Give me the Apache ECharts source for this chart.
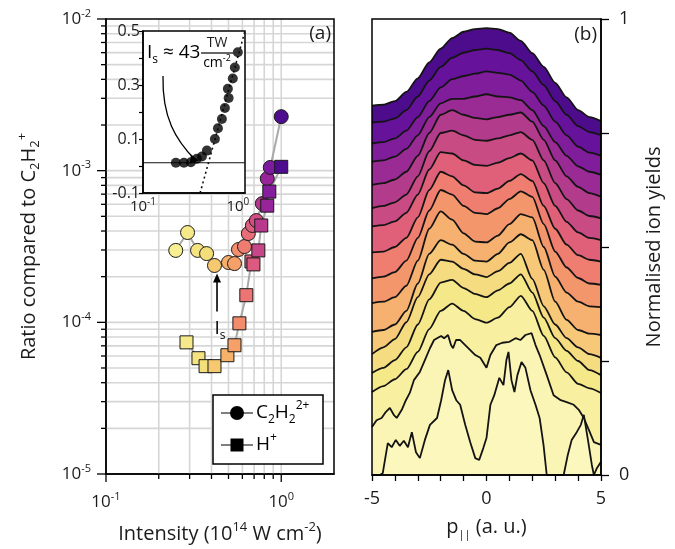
<!DOCTYPE html>
<html>
<head>
<meta charset="utf-8">
<script src="https://cdn.jsdelivr.net/npm/echarts@6/dist/echarts.min.js"></script>
<style>
  html, body { margin: 0; padding: 0; background: #fff; }
  #chart { width: 675px; height: 549px; }
</style>
</head>
<body>
<div id="chart"></div>
<script>
// ---------- Panel (a): yield ratios vs laser intensity ----------
const dicationIntensity = [0.25, 0.292, 0.333, 0.375, 0.416, 0.50, 0.541, 0.57, 0.617, 0.649, 0.684, 0.721, 0.78, 0.832, 0.866, 1.0];
const dicationRatio = [2.98e-4, 3.91e-4, 2.98e-4, 2.84e-4, 2.37e-4, 2.48e-4, 2.44e-4, 3.02e-4, 3.16e-4, 3.85e-4, 4.35e-4, 4.69e-4, 6.07e-4, 8.86e-4, 1.05e-3, 2.27e-3];
const protonIntensity = [0.288, 0.337, 0.37, 0.416, 0.493, 0.541, 0.577, 0.632, 0.676, 0.694, 0.74, 0.769, 0.832, 0.855, 1.0];
const protonRatio = [7.38e-5, 5.80e-5, 5.14e-5, 5.14e-5, 6.07e-5, 7.06e-5, 9.85e-5, 1.51e-4, 2.52e-4, 2.41e-4, 2.98e-4, 4.35e-4, 5.88e-4, 7.28e-4, 1.06e-3];

// Saturation intensity (10^14 W cm^-2) and the ratio span of its arrow
const saturationIntensity = 0.43;
const saturationArrowRatio = [1.18e-4, 2.1e-4];

// Inset: linear-scale quantity vs intensity with a straight-line fit
const insetIntensity = [0.222, 0.27, 0.32, 0.37, 0.418, 0.472, 0.573, 0.617, 0.679, 0.73, 0.80, 0.785, 0.885, 0.93, 1.0];
const insetValue = [0.012, 0.012, 0.014, 0.027, 0.035, 0.057, 0.10, 0.14, 0.174, 0.215, 0.252, 0.286, 0.324, 0.365, 0.421];
const insetBaseline = 0.012;
const insetFitIntensity = [0.40, 1.19];
const insetFitValue = [-0.1, 0.5];

// ---------- Panel (b): stacked momentum distributions ----------
const pGrid = [-5, -4.5, -4, -3.5, -3, -2.5, -2, -1.5, -1, -0.5, 0, 0.5, 1, 1.5, 2, 2.5, 3, 3.5, 4, 4.5, 5];
const layer01 = [.810, .812, .820, .840, .870, .905, .935, .958, .972, .978, .980, .978, .970, .952, .925, .895, .860, .828, .800, .785, .776];
const layer02 = [.773, .775, .782, .800, .830, .865, .895, .915, .926, .932, .935, .932, .925, .910, .885, .855, .820, .790, .765, .752, .745];
const layer03 = [.727, .730, .738, .755, .785, .820, .850, .868, .875, .880, .885, .882, .878, .865, .840, .810, .775, .745, .720, .707, .700];
const layer04 = [.687, .690, .698, .715, .745, .785, .815, .825, .825, .830, .835, .830, .828, .822, .800, .765, .730, .700, .677, .665, .658];
const layer05 = [.636, .640, .648, .665, .700, .750, .790, .800, .790, .783, .780, .785, .790, .795, .775, .735, .690, .655, .632, .618, .610];
const layer06 = [.585, .590, .598, .615, .655, .710, .750, .755, .745, .735, .733, .738, .745, .752, .735, .690, .640, .605, .580, .568, .563];
const layer07 = [.545, .548, .556, .575, .615, .670, .708, .705, .690, .680, .678, .685, .695, .705, .690, .640, .590, .555, .532, .520, .515];
const layer08 = [.488, .490, .500, .520, .565, .625, .665, .655, .635, .620, .618, .628, .645, .660, .645, .590, .540, .505, .482, .472, .468];
const layer09 = [.431, .435, .445, .470, .520, .580, .625, .615, .590, .575, .572, .585, .605, .622, .610, .550, .490, .455, .432, .420, .417];
const layer10 = [.377, .380, .390, .415, .470, .540, .578, .560, .530, .512, .510, .525, .550, .572, .565, .500, .435, .400, .380, .370, .368];
const layer11 = [.314, .318, .330, .360, .420, .485, .515, .505, .485, .470, .468, .485, .510, .528, .515, .450, .380, .340, .318, .310, .307];
const layer12 = [.265, .280, .298, .335, .390, .440, .472, .468, .452, .440, .434, .447, .465, .485, .430, .370, .330, .300, .280, .265, .257];
const layer13 = [.224, .235, .252, .280, .330, .385, .422, .428, .410, .397, .390, .405, .420, .440, .400, .345, .300, .272, .250, .230, .219];
const layer14 = [.182, .195, .210, .232, .270, .320, .360, .376, .360, .342, .334, .345, .368, .393, .360, .305, .258, .225, .200, .190, .180];
const layer15P = [-5, -4.8, -4.58, -4.4, -4.22, -4.05, -3.92, -3.7, -3.52, -3.35, -3.17, -2.91, -2.69, -2.47, -2.29, -2.16, -1.98, -1.85, -1.68, -1.55, -1.46, -1.33, -1.15, -0.93, -0.71, -0.49, -0.27, 0, 0.17, 0.43, 0.69, 1.0, 1.27, 1.48, 1.7, 1.97, 2.14, 2.32, 2.63, 2.93, 3.24, 3.5, 3.81, 4.03, 4.25, 4.47, 4.69, 5];
const layer15 = [.105, .12, .125, .138, .147, .132, .125, .143, .164, .18, .208, .226, .252, .278, .296, .30, .305, .30, .307, .285, .278, .296, .296, .285, .274, .263, .257, .235, .263, .285, .29, .292, .30, .296, .307, .311, .285, .263, .219, .175, .164, .16, .154, .143, .125, .099, .072, .066];
const layer16P = [-5, -4.66, -4.53, -4.31, -4.14, -3.96, -3.79, -3.61, -3.43, -3.26, -3.08, -2.91, -2.69, -2.47, -2.16, -1.98, -1.81, -1.67, -1.5, -1.32, -1.15, -0.93, -0.71, -0.49, -0.32, -0.14, 0, 0.17, 0.34, 0.56, 0.74, 0.87, 0.96, 1.09, 1.22, 1.35, 1.53, 1.7, 1.92, 2.14, 2.32, 2.49, 2.63, 3.37, 3.55, 3.72, 3.94, 4.12, 4.25, 4.43, 4.6, 4.69, 4.82, 5];
const layer16 = [0, 0, .004, .07, .061, .077, .064, .075, .061, .094, .05, .037, .077, .11, .125, .164, .208, .23, .186, .164, .154, .11, .072, .037, .033, .059, .081, .154, .175, .213, .197, .252, .27, .208, .182, .219, .248, .235, .186, .154, .125, .066, 0, 0, .044, .077, .094, .11, .132, .077, .022, 0, .015, .029];

// Fill colours, highest intensity (top layer) to lowest (bottom layer)
const layerColors = ['#4d0c8c', '#66129a', '#801d9b', '#9a2b94', '#b23b8b', '#c84b83', '#e0607a', '#ef7d70',
                     '#f4966b', '#f6b06f', '#f6c878', '#f5dc80', '#f5e888', '#f8f0a0', '#faf5b5', '#fbf7bd'];

// Marker colour ramp for panel (a), keyed by intensity
const markerStops = [[0.25, '#f8ee92'], [0.375, '#f3de7a'], [0.416, '#f6c86f'], [0.5, '#f7b069'], [0.54, '#f7a26a'],
                     [0.57, '#f38f6c'], [0.62, '#ee7b70'], [0.65, '#e86c77'], [0.70, '#da5880'], [0.78, '#b4348f'],
                     [0.83, '#982598'], [0.87, '#7a1aa0'], [1.0, '#4e0c8e']];

const FONT = '"Open Sans", Lato, "DejaVu Sans", sans-serif';
const INK = '#1b1b1b';

function zip(xs, ys) { return xs.map((x, i) => [x, ys[i]]); }
function isPow10(v) { const l = Math.log10(v); return Math.abs(l - Math.round(l)) < 1e-6; }
function hexToRgb(h) { return [1, 3, 5].map(i => parseInt(h.slice(i, i + 2), 16)); }
function colorForIntensity(v) {
  if (v <= markerStops[0][0]) return markerStops[0][1];
  for (let i = 1; i < markerStops.length; i++) {
    if (v <= markerStops[i][0]) {
      const [a, ca] = markerStops[i - 1], [b, cb] = markerStops[i];
      const t = (v - a) / (b - a);
      const A = hexToRgb(ca), B = hexToRgb(cb);
      return 'rgb(' + A.map((c, k) => Math.round(c + (B[k] - c) * t)).join(',') + ')';
    }
  }
  return markerStops[markerStops.length - 1][1];
}
const powRich = {
  b: { fontFamily: FONT, fontSize: 17, color: INK, lineHeight: 22 },
  e: { fontFamily: FONT, fontSize: 11, color: INK, lineHeight: 10, verticalAlign: 'top' }
};
function powLabel(v) {
  if (!isPow10(v)) return '';
  return '{b|10}{e|' + Math.round(Math.log10(v)) + '}';
}

// grid positions for the log panel
const gridXValues = [];
for (let k = 1; k <= 9; k++) gridXValues.push(+(k / 10).toFixed(2));
gridXValues.push(1, 2);
const gridYValues = [];
for (let d = -5; d < -2; d++) for (let k = 1; k <= 9; k++) gridYValues.push(k * Math.pow(10, d));
gridYValues.push(1e-2);

const X0 = 0.1, X1 = 2, Y0 = 1e-5, Y1 = 1e-2;

const layerSeries = [layer01, layer02, layer03, layer04, layer05, layer06, layer07, layer08,
                     layer09, layer10, layer11, layer12, layer13, layer14];
const series = [];

// light grid + outward ticks, drawn through the axes' own scales
series.push({
  type: 'custom', xAxisIndex: 0, yAxisIndex: 0, z: 1, silent: true,
  data: gridXValues.map(v => [v, Y0]),
  renderItem(params, api) {
    const v = api.value(0);
    const t = api.coord([v, Y1]), b = api.coord([v, Y0]);
    const kids = [];
    if (v > X0 && v < X1) kids.push({ type: 'line', shape: { x1: t[0], y1: t[1], x2: b[0], y2: b[1] }, style: { stroke: '#d6d6d6', lineWidth: 1.6 } });
    if (v < X1) kids.push({ type: 'line', shape: { x1: b[0], y1: b[1], x2: b[0], y2: b[1] + (isPow10(v) ? 8 : 5) }, style: { stroke: '#000', lineWidth: 1.3 } });
    return { type: 'group', children: kids };
  }
});
series.push({
  type: 'custom', xAxisIndex: 0, yAxisIndex: 0, z: 1, silent: true,
  data: gridYValues.map(v => [X0, v]),
  renderItem(params, api) {
    const v = api.value(1);
    const l = api.coord([X0, v]), r = api.coord([X1, v]);
    const kids = [];
    if (v > Y0 * 1.0001 && v < Y1 * 0.9999) kids.push({ type: 'line', shape: { x1: l[0], y1: l[1], x2: r[0], y2: r[1] }, style: { stroke: '#d6d6d6', lineWidth: 1.6 } });
    kids.push({ type: 'line', shape: { x1: l[0] - (isPow10(v) ? 9 : 5), y1: l[1], x2: l[0], y2: l[1] }, style: { stroke: '#000', lineWidth: 1.3 } });
    return { type: 'group', children: kids };
  }
});

// measured ratios
series.push({
  name: 'C2H2 2+', type: 'line', xAxisIndex: 0, yAxisIndex: 0, z: 3,
  data: dicationIntensity.map((x, i) => ({ value: [x, dicationRatio[i]], itemStyle: { color: colorForIntensity(x) } })),
  symbol: 'circle', symbolSize: 14,
  lineStyle: { color: '#a9a9a9', width: 2 },
  itemStyle: { borderColor: '#1a1a1a', borderWidth: 1 }
});
series.push({
  name: 'H+', type: 'line', xAxisIndex: 0, yAxisIndex: 0, z: 3,
  data: protonIntensity.map((x, i) => ({ value: [x, protonRatio[i]], itemStyle: { color: colorForIntensity(x) } })),
  symbol: 'rect', symbolSize: 13,
  lineStyle: { color: '#a9a9a9', width: 2 },
  itemStyle: { borderColor: '#1a1a1a', borderWidth: 1 }
});

// inset
series.push({
  type: 'line', xAxisIndex: 1, yAxisIndex: 1, z: 7, silent: true, symbol: 'none',
  data: [[0.1, insetBaseline], [1.19, insetBaseline]],
  lineStyle: { color: '#111', width: 1.2 }
});
series.push({
  type: 'line', xAxisIndex: 1, yAxisIndex: 1, z: 7, silent: true, symbol: 'none',
  data: zip(insetFitIntensity, insetFitValue),
  lineStyle: { color: '#111', width: 1.6, type: [2, 3] }
});
series.push({
  type: 'scatter', xAxisIndex: 1, yAxisIndex: 1, z: 8,
  data: zip(insetIntensity, insetValue),
  symbolSize: 10, itemStyle: { color: '#000' }
});

// stacked distributions: each curve filled down to zero, lower ones painted on top
const curves = layerSeries.map(arr => zip(pGrid, arr));
curves.push(zip(layer15P, layer15));
curves.push(zip(layer16P, layer16));
curves.forEach((data, i) => {
  series.push({
    type: 'line', xAxisIndex: 2, yAxisIndex: 2, z: 10 + i, silent: true,
    data, symbol: 'none',
    smooth: i < 14 ? 0.25 : false, smoothMonotone: 'x',
    lineStyle: { color: '#141414', width: 1.8 },
    areaStyle: { color: layerColors[i], opacity: 1, origin: 'start' }
  });
});

const nameRich = {
  n: { fontFamily: FONT, fontSize: 20, color: INK, lineHeight: 26 },
  s: { fontFamily: FONT, fontSize: 13, color: INK, lineHeight: 12, verticalAlign: 'bottom' },
  p: { fontFamily: FONT, fontSize: 13, color: INK, lineHeight: 12, verticalAlign: 'top' }
};

const chart = echarts.init(document.getElementById('chart'), null, { renderer: 'canvas' });
chart.setOption({
  animation: false,
  backgroundColor: '#fff',
  grid: [
    { left: 106, top: 19, width: 228, height: 456, show: true, borderColor: '#000', borderWidth: 1.5, z: 2 },
    { left: 143, top: 31, width: 102, height: 162, show: true, borderColor: '#000', borderWidth: 1.5, backgroundColor: '#fff', z: 5 },
    { left: 372, top: 19, width: 229, height: 456, show: true, borderColor: '#000', borderWidth: 1.5, z: 50 }
  ],
  xAxis: [
    {
      type: 'log', gridIndex: 0, min: X0, max: X1, logBase: 10,
      axisLine: { onZero: false, lineStyle: { color: '#000', width: 1.5 } },
      axisTick: { show: false }, splitLine: { show: false },
      axisLabel: { formatter: powLabel, rich: powRich, margin: 17, showMaxLabel: false },
      name: '{n|Intensity (10}{p|14}{n| W cm}{p|-2}{n|)}', nameLocation: 'middle', nameGap: 47,
      nameTextStyle: { rich: nameRich }
    },
    {
      type: 'log', gridIndex: 1, min: 0.1, max: 1.19, logBase: 10, z: 6,
      axisLine: { onZero: false, lineStyle: { color: '#000', width: 1.5 } },
      axisTick: { show: false }, splitLine: { show: false },
      axisLabel: { formatter: powLabel, rich: {
        b: { fontFamily: FONT, fontSize: 15, color: INK, lineHeight: 19 },
        e: { fontFamily: FONT, fontSize: 10, color: INK, lineHeight: 9, verticalAlign: 'top' } },
        margin: 4, showMaxLabel: false }
    },
    {
      type: 'value', gridIndex: 2, min: -5, max: 5, interval: 1, z: 60,
      axisLine: { onZero: false, lineStyle: { color: '#000', width: 1.5 } },
      axisTick: { length: 6, lineStyle: { color: '#000', width: 1.3 } },
      splitLine: { show: false },
      axisLabel: { formatter: v => (v === -5 || v === 0 || v === 5) ? String(v) : '', fontFamily: FONT, fontSize: 18, color: INK, margin: 15 },
      name: '{n|p}{s|||}{n| (a. u.)}', nameLocation: 'middle', nameGap: 39,
      nameTextStyle: { rich: {
        n: { fontFamily: FONT, fontSize: 20, color: INK, lineHeight: 26 },
        s: { fontFamily: FONT, fontSize: 11, color: INK, lineHeight: 11, verticalAlign: 'bottom' } } }
    }
  ],
  yAxis: [
    {
      type: 'log', gridIndex: 0, min: Y0, max: Y1, logBase: 10,
      axisLine: { onZero: false, lineStyle: { color: '#000', width: 1.5 } },
      axisTick: { show: false }, splitLine: { show: false },
      axisLabel: { formatter: powLabel, rich: powRich, margin: 15 },
      name: '{n|Ratio compared to C}{s|2}{n|H}{s|2}{p|+}', nameLocation: 'middle', nameGap: 64,
      nameTextStyle: { rich: nameRich }
    },
    {
      type: 'value', gridIndex: 1, min: -0.1, max: 0.5, interval: 0.1, z: 6,
      axisLine: { onZero: false, lineStyle: { color: '#000', width: 1.5 } },
      axisTick: { length: 4, lineStyle: { color: '#000', width: 1.2 } },
      splitLine: { show: false },
      axisLabel: {
        formatter: v => { const r = Math.round(v * 10); return (r === -1 || r === 1 || r === 3 || r === 5) ? (r / 10).toFixed(1) : ''; },
        fontFamily: FONT, fontSize: 16, color: INK, margin: 3
      }
    },
    {
      type: 'value', gridIndex: 2, position: 'right', min: 0, max: 1, interval: 0.25, z: 60,
      axisLine: { onZero: false, lineStyle: { color: '#000', width: 1.5 } },
      axisTick: { length: 8, lineStyle: { color: '#000', width: 1.3 } },
      splitLine: { show: false },
      axisLabel: { formatter: v => (v === 0 || v === 1) ? String(v) : '', fontFamily: FONT, fontSize: 18, color: INK, margin: 18 },
      name: 'Normalised ion yields', nameLocation: 'middle', nameGap: 43, nameRotate: 90,
      nameTextStyle: { fontFamily: FONT, fontSize: 20, color: INK }
    }
  ],
  series
});

// annotations anchored to the data scales
const tip = chart.convertToPixel({ xAxisIndex: 0, yAxisIndex: 0 }, [saturationIntensity, saturationArrowRatio[1]]);
const tail = chart.convertToPixel({ xAxisIndex: 0, yAxisIndex: 0 }, [saturationIntensity, saturationArrowRatio[0]]);
const insetTarget = chart.convertToPixel({ xAxisIndex: 1, yAxisIndex: 1 }, [insetIntensity[4], insetValue[4]]);

const subRich = {
  n: { fontFamily: FONT, fontSize: 19, color: INK, lineHeight: 26 },
  s: { fontFamily: FONT, fontSize: 12, color: INK, lineHeight: 12, verticalAlign: 'bottom' },
  p: { fontFamily: FONT, fontSize: 12, color: INK, lineHeight: 12, verticalAlign: 'top' }
};

chart.setOption({
  graphic: [
    // panel tags
    { type: 'text', z: 100, style: { text: '(a)', x: 331, y: 34, align: 'right', verticalAlign: 'middle', font: '19px ' + FONT, fill: INK } },
    { type: 'text', z: 100, style: { text: '(b)', x: 597, y: 35, align: 'right', verticalAlign: 'middle', font: '19px ' + FONT, fill: INK } },
    // saturation-intensity arrow in (a)
    { type: 'line', z: 20, shape: { x1: tail[0], y1: tail[1], x2: tip[0], y2: tip[1] + 6 }, style: { stroke: '#000', lineWidth: 1.6 } },
    { type: 'polygon', z: 20, shape: { points: [[tip[0], tip[1]], [tip[0] - 4, tip[1] + 9], [tip[0] + 4, tip[1] + 9]] }, style: { fill: '#000' } },
    { type: 'text', z: 20, style: { text: '{n|I}{s|s}', rich: subRich, x: tail[0] + 3, y: tail[1] + 4, align: 'center', verticalAlign: 'top' } },
    // inset annotation
    { type: 'text', z: 20, style: { text: '{n|I}{s|s}{n| ≈ 43}', rich: {
        n: { fontFamily: FONT, fontSize: 19, color: INK, lineHeight: 26 },
        s: { fontFamily: FONT, fontSize: 12, color: INK, lineHeight: 12, verticalAlign: 'bottom' } },
      x: 147, y: 53, verticalAlign: 'middle' } },
    { type: 'text', z: 20, style: { text: 'TW', x: 217, y: 43, align: 'center', verticalAlign: 'middle', font: '14px ' + FONT, fill: INK } },
    { type: 'line', z: 20, shape: { x1: 201, y1: 53, x2: 233, y2: 53 }, style: { stroke: '#000', lineWidth: 1.2 } },
    { type: 'text', z: 20, style: { text: '{n|cm}{p|-2}', rich: {
        n: { fontFamily: FONT, fontSize: 14, color: INK, lineHeight: 18 },
        p: { fontFamily: FONT, fontSize: 9, color: INK, lineHeight: 9, verticalAlign: 'top' } },
      x: 217, y: 63, align: 'center', verticalAlign: 'middle' } },
    { type: 'bezierCurve', z: 20, shape: { x1: 163, y1: 76, cpx1: 162, cpy1: 118, cpx2: 176, cpy2: 140, x2: insetTarget[0] - 7, y2: insetTarget[1] + 3 },
      style: { stroke: '#000', lineWidth: 1.3, fill: null } },
    { type: 'polygon', z: 20, shape: { points: [[insetTarget[0] - 3, insetTarget[1] + 4], [insetTarget[0] - 11, insetTarget[1] - 2], [insetTarget[0] - 12, insetTarget[1] + 7]] }, style: { fill: '#000' } },
    // legend
    { type: 'rect', z: 30, shape: { x: 213, y: 395, width: 110, height: 69 }, style: { fill: '#fff', stroke: '#000', lineWidth: 1.5 } },
    { type: 'line', z: 31, shape: { x1: 221, y1: 413, x2: 253, y2: 413 }, style: { stroke: '#555', lineWidth: 1.5 } },
    { type: 'circle', z: 32, shape: { cx: 237, cy: 413, r: 7 }, style: { fill: '#000' } },
    { type: 'text', z: 32, style: { text: '{n|C}{s|2}{n|H}{s|2}{p|2+}', rich: subRich, x: 256, y: 413, verticalAlign: 'middle' } },
    { type: 'line', z: 31, shape: { x1: 221, y1: 445, x2: 253, y2: 445 }, style: { stroke: '#555', lineWidth: 1.5 } },
    { type: 'rect', z: 32, shape: { x: 230.5, y: 438.5, width: 13, height: 13 }, style: { fill: '#000' } },
    { type: 'text', z: 32, style: { text: '{n|H}{p|+}', rich: subRich, x: 256, y: 445, verticalAlign: 'middle' } }
  ]
});
</script>
</body>
</html>
